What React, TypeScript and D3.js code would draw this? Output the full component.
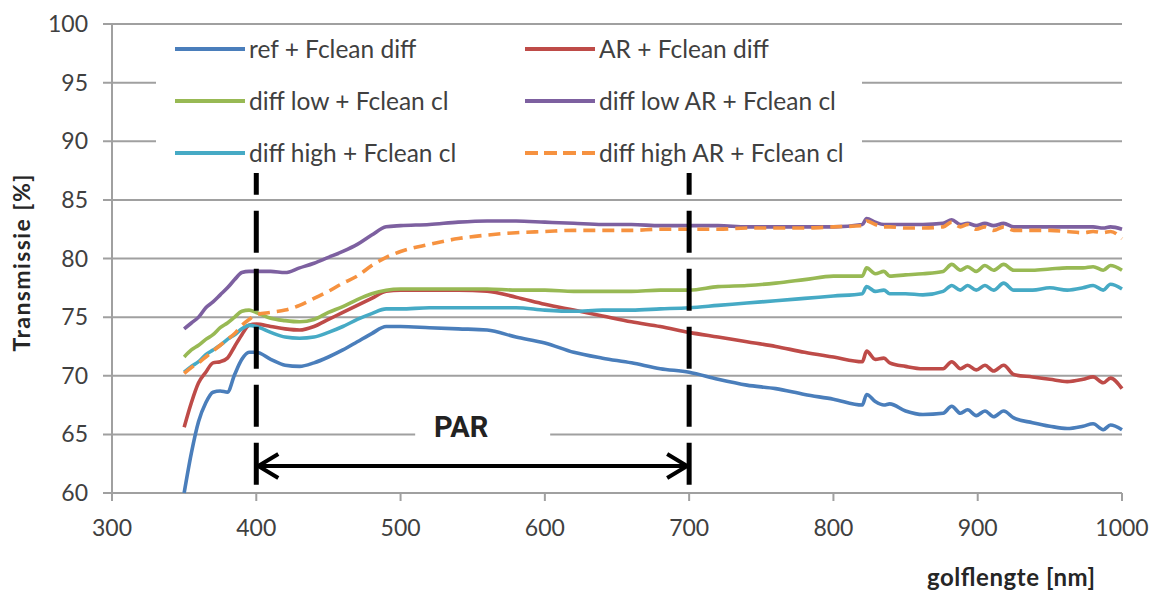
import React from "react";
import * as d3 from "d3";

// wavelengths (nm) shared by all series
const wavelengths = [
  350, 355, 360, 365, 370, 375, 380, 385, 390, 395, 400,
  410, 420, 430, 440, 450, 460, 470, 480, 490, 500,
  520, 540, 560, 580, 600, 620, 640, 660, 680, 700, 720, 740, 760, 780, 800,
  820, 823, 829, 835, 839, 850, 862, 876, 882, 888, 893, 899, 905, 911, 918, 925, 938, 950, 962, 973, 980, 987, 992, 1000,
];

const refDiff = [
  60.0, 63.4, 66.1, 67.7, 68.6, 68.7, 68.6, 70.1, 71.4, 72.0, 72.0,
  71.4, 70.9, 70.8, 71.1, 71.6, 72.2, 72.9, 73.6, 74.2, 74.2,
  74.1, 74.0, 73.9, 73.3, 72.8, 72.0, 71.5, 71.1, 70.6, 70.3, 69.7, 69.2, 68.9, 68.4, 68.0,
  67.5, 68.4, 67.8, 67.5, 67.6, 67.0, 66.7, 66.8, 67.4, 66.8, 67.1, 66.6, 67.0, 66.5, 67.0, 66.4, 66.0, 65.7, 65.5, 65.7, 65.9, 65.4, 65.8, 65.4,
];

const arDiff = [
  65.6, 67.7, 69.4, 70.3, 71.1, 71.2, 71.5, 72.5, 73.5, 74.3, 74.4,
  74.2, 74.0, 73.9, 74.2, 74.8, 75.4, 76.0, 76.6, 77.2, 77.3,
  77.3, 77.3, 77.2, 76.7, 76.1, 75.6, 75.1, 74.6, 74.2, 73.7, 73.3, 72.9, 72.5, 72.0, 71.6,
  71.2, 72.1, 71.4, 71.5, 71.1, 70.8, 70.6, 70.6, 71.2, 70.6, 70.9, 70.5, 70.9, 70.4, 70.9, 70.1, 69.9, 69.7, 69.5, 69.7, 69.9, 69.4, 69.8, 68.9,
];

const diffLow = [
  71.6, 72.2, 72.6, 73.1, 73.5, 74.1, 74.5, 75.0, 75.5, 75.6, 75.4,
  74.9, 74.7, 74.6, 74.8, 75.4, 75.9, 76.5, 77.0, 77.3, 77.4,
  77.4, 77.4, 77.4, 77.3, 77.3, 77.2, 77.2, 77.2, 77.3, 77.3, 77.6, 77.7, 77.9, 78.2, 78.5,
  78.5, 79.2, 78.7, 78.9, 78.5, 78.6, 78.7, 78.9, 79.5, 79.0, 79.3, 78.9, 79.4, 79.0, 79.5, 79.0, 79.0, 79.1, 79.2, 79.2, 79.3, 79.0, 79.4, 79.0,
];

const diffLowAR = [
  74.0, 74.5, 75.0, 75.8, 76.3, 76.9, 77.5, 78.2, 78.8, 78.9, 78.9,
  78.9, 78.8, 79.2, 79.6, 80.1, 80.6, 81.2, 82.0, 82.7, 82.8,
  82.9, 83.1, 83.2, 83.2, 83.1, 83.0, 82.9, 82.9, 82.8, 82.8, 82.8, 82.7, 82.7, 82.7, 82.7,
  82.9, 83.4, 83.1, 82.9, 82.9, 82.9, 82.9, 83.0, 83.3, 82.9, 83.0, 82.8, 83.0, 82.8, 83.0, 82.7, 82.7, 82.7, 82.7, 82.7, 82.7, 82.6, 82.7, 82.5,
];

const diffHigh = [
  70.3, 70.8, 71.2, 71.8, 72.2, 72.6, 73.1, 73.5, 74.0, 74.3, 74.2,
  73.7, 73.3, 73.2, 73.3, 73.7, 74.2, 74.8, 75.3, 75.7, 75.7,
  75.8, 75.8, 75.8, 75.8, 75.6, 75.5, 75.6, 75.6, 75.7, 75.8, 76.0, 76.2, 76.4, 76.6, 76.8,
  77.0, 77.6, 77.2, 77.3, 77.0, 77.0, 76.9, 77.2, 77.7, 77.3, 77.7, 77.3, 77.7, 77.3, 77.9, 77.3, 77.3, 77.5, 77.3, 77.5, 77.7, 77.3, 77.8, 77.4,
];

const diffHighAR = [
  70.2, 70.7, 71.1, 71.6, 72.1, 72.6, 73.1, 73.6, 74.3, 74.8, 75.2,
  75.4, 75.6, 76.0, 76.6, 77.2, 77.9, 78.5, 79.4, 80.1, 80.6,
  81.2, 81.7, 82.0, 82.2, 82.3, 82.4, 82.4, 82.4, 82.5, 82.5, 82.5, 82.6, 82.6, 82.6, 82.7,
  82.8, 83.2, 82.9, 82.7, 82.7, 82.6, 82.6, 82.7, 83.1, 82.7, 82.9, 82.5, 82.7, 82.4, 82.7, 82.4, 82.4, 82.4, 82.3, 82.2, 82.3, 82.2, 82.3, 81.7,
];

const xTicks = [300, 400, 500, 600, 700, 800, 900, 1000];
const yTicks = [60, 65, 70, 75, 80, 85, 90, 95, 100];

// PAR band annotation
const parRange = [400, 700];
const parDashSpan = [60.7, 87.3];
const parArrowY = 62.3;
const parLabel = { x: 542, y: 64.8, text: "PAR" };

const series = [
  { name: "ref + Fclean diff", values: refDiff, color: "#4A7EBB", dash: null, col: 0, row: 0 },
  { name: "AR + Fclean diff", values: arDiff, color: "#BE4B48", dash: null, col: 1, row: 0 },
  { name: "diff low + Fclean cl", values: diffLow, color: "#98B954", dash: null, col: 0, row: 1 },
  { name: "diff low AR + Fclean cl", values: diffLowAR, color: "#7D60A0", dash: null, col: 1, row: 1 },
  { name: "diff high + Fclean cl", values: diffHigh, color: "#46AAC5", dash: null, col: 0, row: 2 },
  { name: "diff high AR + Fclean cl", values: diffHighAR, color: "#F69240", dash: "12,7", col: 1, row: 2 },
];

const W = 1157;
const H = 591;
const plot = { left: 112, right: 1122, top: 24, bottom: 493 };
const font = "Lato, 'Open Sans', sans-serif";
const gridColor = "#a0a0a0";
const textColor = "#404040";

export default function App() {
  const x = d3.scaleLinear().domain([300, 1000]).range([plot.left, plot.right]);
  const y = d3.scaleLinear().domain([60, 100]).range([plot.bottom, plot.top]);

  const line = d3
    .line<number>()
    .x((_, i) => x(wavelengths[i]))
    .y((d) => y(d))
    .curve(d3.curveMonotoneX);

  const legendCols = [175, 525];
  const legendRows = [49, 101, 153];

  const arrowY = y(parArrowY);
  const ax1 = x(parRange[0]);
  const ax2 = x(parRange[1]);

  return (
    <svg
      width={W}
      height={H}
      style={{ position: "absolute", left: 0, top: 0, background: "#fff" }}
      fontFamily={font}
    >
      {/* gridlines */}
      {yTicks.map((t) => (
        <line
          key={t}
          x1={plot.left - 9}
          x2={plot.right}
          y1={y(t)}
          y2={y(t)}
          stroke={gridColor}
          strokeWidth={2}
        />
      ))}
      {/* axes */}
      <line x1={plot.left} x2={plot.left} y1={plot.top} y2={plot.bottom} stroke={gridColor} strokeWidth={2} />
      {xTicks.map((t) => (
        <line key={t} x1={x(t)} x2={x(t)} y1={plot.bottom} y2={plot.bottom + 8} stroke={gridColor} strokeWidth={2} />
      ))}
      {yTicks.map((t) => (
        <text key={t} x={88} y={y(t)} dy="0.35em" textAnchor="end" fontSize={23} fill={textColor}>
          {t}
        </text>
      ))}
      {xTicks.map((t) => (
        <text key={t} x={x(t)} y={528} dy="0.35em" textAnchor="middle" fontSize={23} fill={textColor}>
          {t}
        </text>
      ))}

      {/* legend box */}
      <rect x={156} y={32} width={706} height={146} fill="#fff" />
      {series.map((s) => {
        const lx = legendCols[s.col];
        const ly = legendRows[s.row];
        return (
          <g key={s.name}>
            <line
              x1={lx}
              x2={lx + 70}
              y1={ly}
              y2={ly}
              stroke={s.color}
              strokeWidth={4}
              strokeDasharray={s.dash ? "13,6" : undefined}
            />
            <text x={lx + 74} y={ly} dy="0.35em" fontSize={24.5} fill={textColor}>
              {s.name}
            </text>
          </g>
        );
      })}

      {/* series */}
      {series.map((s) => (
        <path
          key={s.name}
          d={line(s.values) ?? ""}
          fill="none"
          stroke={s.color}
          strokeWidth={3.6}
          strokeLinejoin="round"
          strokeDasharray={s.dash ?? undefined}
        />
      ))}

      {/* PAR annotation */}
      {parRange.map((w) => (
        <line
          key={w}
          x1={x(w)}
          x2={x(w)}
          y1={y(parDashSpan[0])}
          y2={y(parDashSpan[1])}
          stroke="#000"
          strokeWidth={5}
          strokeDasharray="42,16"
        />
      ))}
      <line x1={ax1} x2={ax2} y1={arrowY} y2={arrowY} stroke="#000" strokeWidth={4} />
      <path
        d={`M${ax1 + 22},${arrowY - 12} L${ax1 + 2},${arrowY} L${ax1 + 22},${arrowY + 12}`}
        fill="none"
        stroke="#000"
        strokeWidth={4}
      />
      <path
        d={`M${ax2 - 22},${arrowY - 12} L${ax2 - 2},${arrowY} L${ax2 - 22},${arrowY + 12}`}
        fill="none"
        stroke="#000"
        strokeWidth={4}
      />
      <rect x={x(parLabel.x) - 46} y={y(66.2)} width={135} height={y(63.9) - y(66.2)} fill="#fff" />
      <text
        x={x(parLabel.x)}
        y={y(parLabel.y)}
        textAnchor="middle"
        fontSize={29}
        fontWeight="bold"
        fontFamily="Roboto, sans-serif"
        fill="#222"
      >
        {parLabel.text}
      </text>

      {/* axis titles */}
      <text
        transform="translate(22,263) rotate(-90)"
        textAnchor="middle"
        dy="0.35em"
        fontSize={23}
        fontWeight="bold"
        fill="#262626"
        textLength={177}
        lengthAdjust="spacing"
      >
        Transmissie [%]
      </text>
      <text
        x={1011}
        y={578}
        dy="0.35em"
        textAnchor="middle"
        fontSize={24}
        fontWeight="bold"
        fill="#262626"
        textLength={168}
        lengthAdjust="spacing"
      >
        golflengte [nm]
      </text>
    </svg>
  );
}
